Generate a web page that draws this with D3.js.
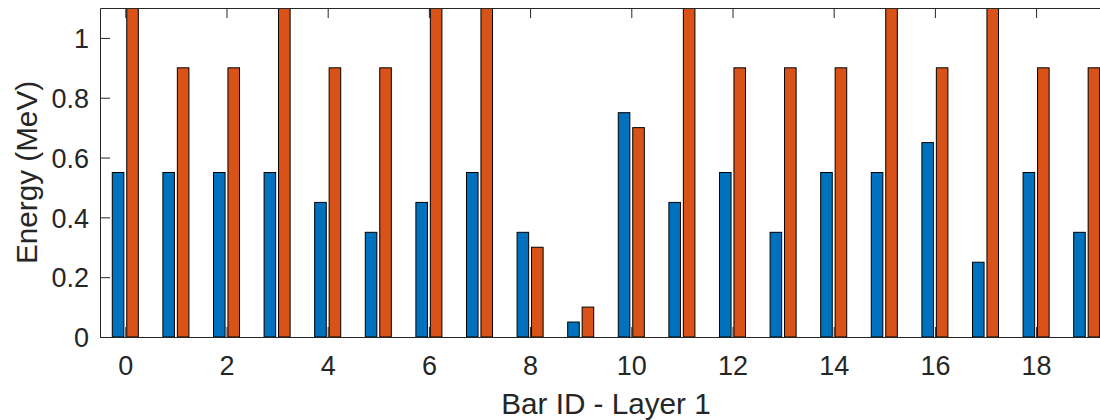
<!DOCTYPE html>
<html>
<head>
<meta charset="utf-8">
<script src="https://cdn.jsdelivr.net/npm/d3@7/dist/d3.min.js"></script>
<style>
  html, body { margin: 0; padding: 0; background: #fff; }
  svg { display: block; font-family: "Liberation Sans", Arial, Helvetica, sans-serif; }
</style>
</head>
<body>
<svg id="chart" width="1100" height="420"></svg>
<script>
// ---- data ----
const barIds = [0,1,2,3,4,5,6,7,8,9,10,11,12,13,14,15,16,17,18,19];
const seriesA = [0.55,0.55,0.55,0.55,0.45,0.35,0.45,0.55,0.35,0.05,0.75,0.45,0.55,0.35,0.55,0.55,0.65,0.25,0.55,0.35];
const seriesB = [1.2,0.9,0.9,1.2,0.9,0.9,1.2,1.2,0.3,0.1,0.7,1.2,0.9,0.9,0.9,1.2,0.9,1.2,0.9,0.9];
const xTicks = [0,2,4,6,8,10,12,14,16,18];
const yTicks = [0,0.2,0.4,0.6,0.8,1];
const xLabel = "Bar ID - Layer 1";
const yLabel = "Energy (MeV)";
const colors = ["#0072BD", "#D95319"];

// ---- layout ----
const svg = d3.select("#chart");
const mLeft = 100, mRight = 1112, mTop = 8, mBottom = 337;
const x = d3.scaleLinear().domain([-0.5, 19.5]).range([mLeft, mRight]);
const y = d3.scaleLinear().domain([0, 1.1]).range([mBottom, mTop]);

svg.append("rect").attr("width", 1100).attr("height", 420).attr("fill", "#fff");

svg.append("defs").append("clipPath").attr("id", "plotclip")
  .append("rect").attr("x", mLeft).attr("y", mTop).attr("width", mRight - mLeft).attr("height", mBottom - mTop);

const groupWidth = Math.min(0.8, 2 / 3.5);
const barW = groupWidth / 2 * 0.8;
const offsets = [-groupWidth / 4, groupWidth / 4];
const series = [seriesA, seriesB];

const plot = svg.append("g").attr("clip-path", "url(#plotclip)");
series.forEach((vals, si) => {
  plot.selectAll(".bar" + si).data(barIds).enter().append("rect")
    .attr("class", "bar" + si)
    .attr("x", d => x(d + offsets[si] - barW / 2))
    .attr("width", d => x(d + offsets[si] + barW / 2) - x(d + offsets[si] - barW / 2))
    .attr("y", (d, i) => y(vals[i]))
    .attr("height", (d, i) => y(0) - y(vals[i]))
    .attr("fill", colors[si])
    .attr("stroke", "#000")
    .attr("stroke-width", 1);
});

// ---- axes (box with inward ticks) ----
const axisColor = "#262626";
const tickLen = 10;
const fontSize = 27;

const axX = d3.axisBottom(x).tickValues(xTicks).tickSizeInner(-tickLen).tickSizeOuter(0).tickPadding(19).tickFormat(d3.format("d"));
const gx = svg.append("g").attr("transform", `translate(0,${mBottom})`).call(axX);
const axXTop = d3.axisTop(x).tickValues(xTicks).tickSizeInner(-tickLen).tickSizeOuter(0).tickFormat("");
const gxt = svg.append("g").attr("transform", `translate(0,${mTop})`).call(axXTop);
const axY = d3.axisLeft(y).tickValues(yTicks).tickSizeInner(-tickLen).tickSizeOuter(0).tickPadding(11).tickFormat(d => d3.format("~g")(d));
const gy = svg.append("g").attr("transform", `translate(${mLeft},0)`).call(axY);
const axYR = d3.axisRight(y).tickValues(yTicks).tickSizeInner(-tickLen).tickSizeOuter(0).tickFormat("");
const gyr = svg.append("g").attr("transform", `translate(${mRight},0)`).call(axYR);

[gx, gxt, gy, gyr].forEach(g => {
  g.select(".domain").attr("stroke", axisColor).attr("stroke-width", 1);
  g.selectAll(".tick line").attr("stroke", axisColor).attr("stroke-width", 1);
  g.selectAll(".tick text").attr("fill", axisColor).style("font-size", fontSize + "px")
    .style("font-family", '"Liberation Sans", Arial, Helvetica, sans-serif');
});
gx.selectAll(".tick text").attr("dy", "0.71em");
gy.selectAll(".tick text").attr("dy", "0.36em");

// ---- labels ----
svg.append("text")
  .attr("x", (mLeft + mRight) / 2).attr("y", 414)
  .attr("text-anchor", "middle")
  .attr("fill", axisColor)
  .style("font-size", (fontSize * 1.1) + "px")
  .text(xLabel);

svg.append("text")
  .attr("transform", `translate(37,${(mTop + mBottom) / 2}) rotate(-90)`)
  .attr("text-anchor", "middle")
  .attr("fill", axisColor)
  .style("font-size", (fontSize * 1.1) + "px")
  .text(yLabel);
</script>
</body>
</html>
